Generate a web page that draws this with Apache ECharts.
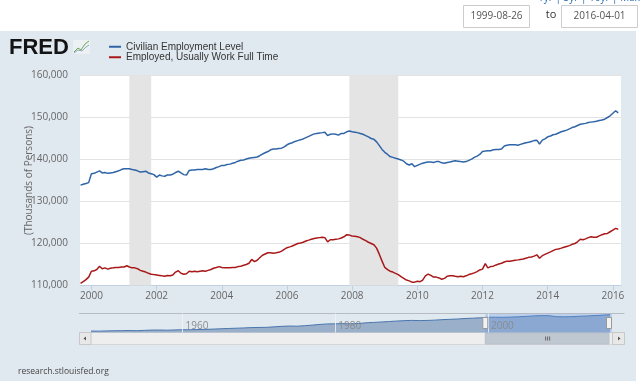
<!DOCTYPE html>
<html><head><meta charset="utf-8">
<script src="https://cdn.jsdelivr.net/npm/echarts@6/dist/echarts.min.js"></script>
<style>html,body{margin:0;padding:0;background:#fff}#c{width:640px;height:381px}</style>
</head><body><div id="c"></div>
<script>
// ---------- DATA (millions of persons; axis shows thousands) ----------
const startYear = 1999, startMonth = 9; // first monthly observation: 1999-09
const civilianEmployment = [
 133.9,134.1,134.3,134.5,
 136.6,136.7,137.0,137.3,136.8,136.9,136.7,136.8,136.9,137.1,137.3,137.6,
 137.8,137.8,137.8,137.6,137.5,137.3,137.0,137.1,137.2,136.8,136.6,136.4,
 135.8,136.3,136.1,136.0,136.3,136.3,136.5,136.9,137.2,136.8,136.4,136.3,
 137.4,137.5,137.5,137.6,137.6,137.6,137.8,137.6,137.6,137.8,138.1,138.3,
 138.6,138.6,138.8,138.9,139.1,139.3,139.6,139.8,139.9,140.1,140.3,140.4,
 140.5,140.6,140.9,141.3,141.6,141.9,142.3,142.5,142.5,142.6,142.7,143.0,
 143.5,143.8,144.0,144.3,144.5,144.7,144.9,145.2,145.5,145.8,146.1,146.2,
 146.3,146.4,146.5,145.7,146.0,146.1,146.0,145.8,146.2,146.2,146.6,146.8,
 146.6,146.5,146.4,146.2,146.0,145.7,145.4,145.0,144.8,144.2,143.3,142.4,
 141.7,141.2,140.7,140.5,140.3,140.1,139.9,139.6,139.0,138.7,139.0,138.3,
 138.6,138.9,139.1,139.3,139.4,139.4,139.3,139.5,139.5,139.2,139.1,139.3,
 139.4,139.6,139.7,139.6,139.5,139.4,139.5,139.8,140.1,140.5,140.8,141.2,
 141.9,142.0,142.1,142.1,142.3,142.4,142.4,142.5,143.2,143.4,143.5,143.5,
 143.5,143.4,143.6,143.8,144.0,144.1,144.3,144.5,144.6,143.7,144.6,144.9,
 145.4,145.6,145.9,146.0,146.3,146.6,146.8,147.0,147.3,147.6,147.8,148.1,
 148.4,148.5,148.6,148.8,148.9,149.0,149.1,149.3,149.4,149.6,150.0,150.4,
 151.0,151.6,151.1
];
const fullTimeEmployed = [
 110.5,110.9,111.4,112.0,
 113.4,113.5,113.8,114.6,114.0,114.2,113.9,114.1,114.2,114.3,114.3,114.4,
 114.4,114.7,114.4,114.2,114.2,114.0,113.6,113.4,113.2,112.9,112.7,112.6,
 112.5,112.4,112.3,112.2,112.4,112.3,112.5,113.2,113.5,112.9,112.7,112.8,
 113.4,113.3,113.4,113.3,113.4,113.5,113.4,113.6,113.8,114.1,114.3,114.5,
 114.3,114.2,114.2,114.2,114.3,114.3,114.5,114.6,114.8,115.0,115.3,116.2,
 115.7,116.0,116.6,117.2,117.5,117.8,117.8,117.7,117.8,117.9,118.2,118.6,
 119.0,119.2,119.4,119.7,120.0,120.1,120.3,120.6,120.8,121.0,121.2,121.3,
 121.4,121.5,121.4,120.4,120.9,120.9,121.0,121.1,121.3,121.6,122.1,122.0,
 121.8,121.7,121.6,121.4,121.0,120.7,120.3,120.0,119.7,118.9,117.4,115.8,
 114.3,113.8,113.4,113.2,112.9,112.6,112.1,111.7,111.3,111.1,110.8,110.8,
 111.0,110.9,111.3,112.3,112.7,112.4,112.0,112.0,111.8,111.5,111.7,112.2,
 112.3,112.3,112.2,112.1,112.2,112.1,112.3,112.6,112.8,113.0,113.3,113.7,
 113.9,115.2,114.2,114.5,114.6,114.9,115.1,115.3,115.6,115.8,115.8,115.9,
 116.0,116.1,116.2,116.3,116.5,116.7,116.8,117.0,117.3,116.5,117.1,117.4,
 117.7,118.0,118.3,118.6,118.7,118.9,119.1,119.3,119.5,119.8,120.0,120.4,
 121.0,120.9,121.1,121.4,121.6,121.5,121.5,121.8,122.1,122.3,122.4,122.8,
 123.2,123.6,123.4
];
// navigator: annual civilian employment, 1948..2016
const navStartYear = 1948;
const navCivilian = [
 58.3,57.7,58.9,59.9,60.3,61.2,60.1,62.2,63.8,64.1,63.0,64.6,
 65.8,65.7,66.7,67.8,69.3,71.1,72.9,74.4,75.9,77.9,
 78.7,79.4,82.2,85.1,86.8,85.8,88.8,92.0,96.0,98.8,
 99.3,100.4,99.5,100.8,105.0,107.2,109.6,112.4,115.0,117.3,
 118.8,117.7,118.5,120.3,123.1,124.9,126.7,129.6,131.5,133.5,
 136.9,136.9,136.5,137.7,139.3,141.7,144.4,146.0,145.4,139.9,
 139.1,139.9,142.5,143.9,146.3,148.8,151.3
];
const seriesNames = ['Civilian Employment Level', 'Employed, Usually Work Full Time'];
const recessions = [[[2001,3],[2001,11]], [[2007,12],[2009,6]]];
const xTickYears = [2000,2002,2004,2006,2008,2010,2012,2014,2016];
const navLabelYears = [1960,1980,2000];
const yMin = 110, yMax = 160, yStep = 10;
const rangeStart = [1999,8,26], rangeEnd = [2016,4,1], navStart = [1948,1,1];
const axisTitle = '(Thousands of Persons)';
const sourceText = 'research.stlouisfed.org';

// ---------- BUILD ----------
const ts = (y,m,d) => Date.UTC(y, m-1, d||1);
const monthTs = i => { const m = startMonth-1+i; return Date.UTC(startYear + Math.floor(m/12), m%12, 1); };
const blueData = civilianEmployment.map((v,i)=>[monthTs(i), v]);
const redData = fullTimeEmployed.map((v,i)=>[monthTs(i), v]);
const navData = navCivilian.map((v,i)=>[Date.UTC(navStartYear+i,0,1), v]);
const xTicks = xTickYears.map(y=>Date.UTC(y,0,1));
const navTicks = navLabelYears.map(y=>Date.UTC(y,0,1));
const yearOf = v => String(new Date(v).getUTCFullYear());
const FONT = '"Open Sans","Liberation Sans",Arial,sans-serif';
const BLUE = '#2f65a7', RED = '#a81818';

const chart = echarts.init(document.getElementById('c'), null, {renderer:'canvas'});
const option = {
  backgroundColor: '#ffffff',
  animation: false,
  textStyle: {fontFamily: FONT},
  legend: {
    data: seriesNames, orient: 'vertical', left: 109, top: 41.5, padding: 0,
    itemWidth: 12, itemHeight: 2, itemGap: 0, icon: 'rect',
    textStyle: {fontSize: 10, color: '#333', lineHeight: 10.5, fontFamily: '"Liberation Sans",Arial,sans-serif'},
    selectedMode: false
  },
  grid: [
    {left: 80, right: 19, top: 75.5, bottom: 95.5, show: true, backgroundColor: '#ffffff', borderWidth: 0},
    {left: 91, right: 28, top: 313.5, bottom: 48.5, show: false}
  ],
  xAxis: [
    {type: 'value', gridIndex: 0, min: ts(...rangeStart), max: ts(...rangeEnd),
     axisLine: {lineStyle: {color: '#c0d0e0'}},
     axisTick: {show: true, length: 5, lineStyle: {color: '#c0d0e0'}, customValues: xTicks},
     axisLabel: {customValues: xTicks, formatter: yearOf, color: '#666', fontSize: 10, margin: 6, showMinLabel: true, showMaxLabel: true},
     splitLine: {show: false}},
    {type: 'value', gridIndex: 1, min: ts(...navStart), max: ts(...rangeEnd), z: 12,
     axisLine: {show: false},
     axisTick: {show: false, customValues: navTicks},
     axisLabel: {customValues: navTicks, inside: true, margin: 1, align: 'left', padding: [0,0,0,3],
       formatter: yearOf, color: '#8c8c8c', fontSize: 10, hideOverlap: false},
     splitLine: {show: true, lineStyle: {color: 'rgba(240,244,248,0.8)', width: 1}}}
  ],
  yAxis: [
    {type: 'value', gridIndex: 0, min: yMin, max: yMax, interval: yStep,
     axisLine: {show: false}, axisTick: {show: false},
     axisLabel: {formatter: v => (v*1000).toLocaleString('en-US'), color: '#666', fontSize: 10, margin: 12},
     splitLine: {lineStyle: {color: '#e3e3e3'}},
     name: axisTitle, nameLocation: 'middle', nameRotate: 90, nameGap: 46, nameMoveOverlap: false,
     nameTextStyle: {color: '#666', fontSize: 10}},
    {type: 'value', gridIndex: 1, min: 50, max: 158, show: false}
  ],
  series: [
    {name: 'recessions', type: 'line', xAxisIndex: 0, yAxisIndex: 0, data: [], z: 1, silent: true,
     markArea: {silent: true, itemStyle: {color: '#e4e4e4'},
       data: recessions.map(r => [{xAxis: ts(r[0][0], r[0][1])}, {xAxis: ts(r[1][0], r[1][1])}])}},
    {name: seriesNames[0], type: 'line', xAxisIndex: 0, yAxisIndex: 0, data: blueData, showSymbol: false, z: 3,
     lineStyle: {color: BLUE, width: 1.5}, itemStyle: {color: BLUE}},
    {name: seriesNames[1], type: 'line', xAxisIndex: 0, yAxisIndex: 0, data: redData, showSymbol: false, z: 3,
     lineStyle: {color: RED, width: 1.5}, itemStyle: {color: RED}},
    {name: 'navigator', type: 'line', xAxisIndex: 1, yAxisIndex: 1, data: navData, showSymbol: false, z: 2, silent: true,
     lineStyle: {color: '#4a76ae', width: 1}, areaStyle: {color: '#9aafc9', opacity: 1}}
  ],
  graphic: [
    {type: 'rect', z: -100, shape: {x: 0, y: 31, width: 636, height: 350}, style: {fill: '#e1e9f0'}, silent: true},
    {type: 'text', x: 640, y: 3, style: {text: '1yr | 5yr | 10yr | Max', fill: '#2a6db0', fontSize: 10, align: 'right', verticalAlign: 'bottom', fontFamily: FONT}},
    {type: 'rect', shape: {x: 463.5, y: 5.5, width: 66, height: 22}, style: {fill: '#fff', stroke: '#cccccc', lineWidth: 1}},
    {type: 'text', x: 496.5, y: 16.5, style: {text: '1999-08-26', fill: '#555', fontSize: 10, align: 'center', verticalAlign: 'middle', fontFamily: FONT}},
    {type: 'text', x: 551, y: 15, style: {text: 'to', fill: '#333', fontSize: 11, align: 'center', verticalAlign: 'middle', fontFamily: FONT}},
    {type: 'rect', shape: {x: 561.5, y: 5.5, width: 76, height: 22}, style: {fill: '#fff', stroke: '#cccccc', lineWidth: 1}},
    {type: 'text', x: 599.5, y: 16.5, style: {text: '2016-04-01', fill: '#555', fontSize: 10, align: 'center', verticalAlign: 'middle', fontFamily: FONT}},
    {type: 'text', x: 9, y: 48, style: {text: 'FRED', fill: '#141414', fontSize: 22, fontWeight: 'bold', verticalAlign: 'middle', fontFamily: '"Liberation Sans",Arial,sans-serif'}},
    {type: 'rect', shape: {x: 73, y: 40, width: 17, height: 14}, style: {fill: '#eef1f3'}},
    {type: 'polyline', shape: {points: [[74,52],[78,48],[81,50],[85,44],[89,41]]}, style: {stroke: '#6aa84f', lineWidth: 1, fill: null}},
    {type: 'polyline', shape: {points: [[74,53],[78,50],[82,51],[86,47],[89,45]]}, style: {stroke: '#8fa7c4', lineWidth: 1, fill: null}},
    {type: 'text', x: 18, y: 372, style: {text: sourceText, fill: '#444', fontSize: 8.5, verticalAlign: 'middle', fontFamily: FONT}}
  ]
};
chart.setOption(option);

// navigator decorations positioned through the navigator axis
const nx = t => chart.convertToPixel({xAxisIndex: 1}, t);
const selL = nx(ts(...rangeStart)), selR = nx(ts(...rangeEnd));
const navTop = 313.5, navBot = 332.5;
const extra = [
  {type: 'line', shape: {x1: 79, y1: navTop, x2: 624.5, y2: navTop}, style: {stroke: '#b7bcc4', lineWidth: 1}},
  {type: 'rect', z: 10, shape: {x: selL, y: navTop+0.5, width: selR - selL, height: navBot - navTop - 0.5}, style: {fill: 'rgba(102,153,230,0.3)'}},
  {type: 'rect', shape: {x: 79.5, y: navBot, width: 545, height: 12}, style: {fill: '#eeeeee', stroke: '#d6d6d6', lineWidth: 1}},
  {type: 'rect', shape: {x: 79.5, y: navBot, width: 11.5, height: 12}, style: {fill: '#e8e8e8', stroke: '#c8c8c8', lineWidth: 1}},
  {type: 'polygon', shape: {points: [[83.5, navBot+6],[86, navBot+4],[86, navBot+8]]}, style: {fill: '#555'}},
  {type: 'rect', shape: {x: 612.5, y: navBot, width: 12, height: 12}, style: {fill: '#e8e8e8', stroke: '#c8c8c8', lineWidth: 1}},
  {type: 'polygon', shape: {points: [[620.5, navBot+6],[618, navBot+4],[618, navBot+8]]}, style: {fill: '#555'}},
  {type: 'rect', shape: {x: selL, y: navBot + 0.5, width: selR - selL - 3, height: 11}, style: {fill: '#bfc8d1', stroke: '#b8c0c8', lineWidth: 1}},
  {type: 'rect', z: 13, shape: {x: selL - 2.5, y: 317.5, width: 5, height: 11}, style: {fill: '#f2f2f2', stroke: '#999', lineWidth: 1}},
  {type: 'rect', z: 13, shape: {x: selR - 5.5, y: 317.5, width: 5, height: 11}, style: {fill: '#f2f2f2', stroke: '#999', lineWidth: 1}}
];
const gx = (selL + selR - 3) / 2;
[-2, 0, 2].forEach(d => extra.push({type: 'line', shape: {x1: gx + d + 0.5, y1: navBot + 4, x2: gx + d + 0.5, y2: navBot + 8}, style: {stroke: '#666', lineWidth: 1}}));
chart.setOption({graphic: option.graphic.concat(extra)});
</script>
</body></html>
